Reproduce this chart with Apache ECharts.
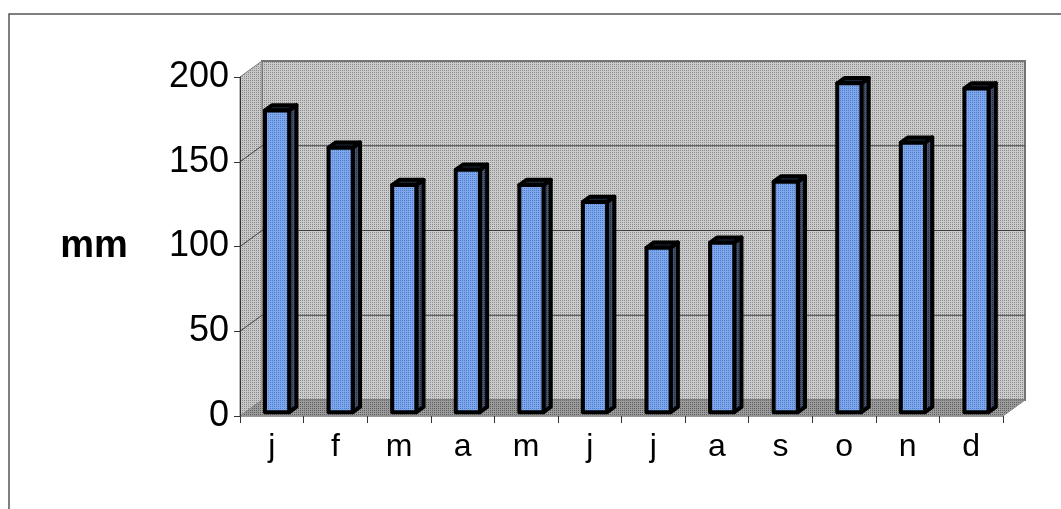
<!DOCTYPE html>
<html>
<head>
<meta charset="utf-8">
<script src="https://cdn.jsdelivr.net/npm/echarts@6/dist/echarts.min.js"></script>
<style>
  html, body { margin: 0; padding: 0; background: #ffffff; }
  #chart { width: 1061px; height: 509px; }
</style>
</head>
<body>
<div id="chart"></div>
<script>
// Monthly rainfall (mm)
const months = ['j', 'f', 'm', 'a', 'm', 'j', 'j', 'a', 's', 'o', 'n', 'd'];
const rainfall = [178, 156, 134, 143, 134, 124, 97, 100, 136, 194, 159, 191];
const yTicks = [0, 50, 100, 150, 200];
const unitLabel = 'mm';

// Depth of the 3D box (back wall offset from the front plane)
const DX = 22, DY = -16;
// Bars sit slightly behind the front plane and have their own depth
const BAR_FRONT = 0.24, BAR_DEPTH = 0.33, BAR_WIDTH = 0.38;

// Small halftone tiles, used as fills
function halftone(base, dot) {
  const c = document.createElement('canvas');
  c.width = 4; c.height = 4;
  const g = c.getContext('2d');
  g.fillStyle = base; g.fillRect(0, 0, 4, 4);
  g.fillStyle = dot;
  g.fillRect(0, 0, 1, 1); g.fillRect(2, 2, 1, 1);
  g.fillRect(2, 0, 1, 1); g.fillRect(0, 2, 1, 1);
  return { image: c, repeat: 'repeat' };
}
const wallFill = halftone('#cbcbcb', '#8a8a8a');
const sideWallFill = halftone('#c8c8c8', '#888888');
const floorFill = halftone('#9c9c9c', '#5e5e5e');
const barFill = halftone('#7fa8ec', '#4f7cc8');
const barSideFill = halftone('#44536e', '#222c3e');

const chart = echarts.init(document.getElementById('chart'));

function renderBox(params, api) {
  const cs = params.coordSys;
  const x0 = cs.x, x1 = cs.x + cs.width;
  const yTop = cs.y, yBot = cs.y + cs.height;
  const children = [];
  // back wall
  children.push({
    type: 'rect',
    shape: { x: x0 + DX, y: yTop + DY, width: cs.width, height: cs.height },
    style: { fill: wallFill, stroke: '#747474', lineWidth: 2 }
  });
  // left wall
  children.push({
    type: 'polygon',
    shape: { points: [[x0, yTop], [x0 + DX, yTop + DY], [x0 + DX, yBot + DY], [x0, yBot]] },
    style: { fill: sideWallFill, stroke: '#7a7a7a', lineWidth: 1 }
  });
  // floor
  children.push({
    type: 'polygon',
    shape: { points: [[x0, yBot], [x1, yBot], [x1 + DX, yBot + DY], [x0 + DX, yBot + DY]] },
    style: { fill: floorFill, stroke: '#8a8a8a', lineWidth: 1 }
  });
  // gridlines along the left wall and the back wall
  yTicks.forEach(function (v) {
    if (v === 0 || v === 200) return;
    const y = api.coord([0, v])[1];
    children.push({
      type: 'polyline',
      shape: { points: [[x0, y], [x0 + DX, y + DY], [x1 + DX, y + DY]] },
      style: { stroke: '#404040', lineWidth: 1, fill: null }
    });
  });
  return { type: 'group', children: children };
}

function renderBar(params, api) {
  const idx = api.value(0);
  const v = api.value(1);
  const top = api.coord([idx, v]);
  const base = api.coord([idx, 0]);
  const band = api.size([1, 0])[0];
  const w = band * BAR_WIDTH;
  const ox = BAR_FRONT * DX, oy = BAR_FRONT * DY;
  const dx = BAR_DEPTH * DX, dy = BAR_DEPTH * DY;
  const xl = top[0] - w / 2 + ox, xr = top[0] + w / 2 + ox;
  const yt = top[1] + oy, yb = base[1] + oy;
  const line = { stroke: '#000000', lineWidth: 4, lineJoin: 'round' };
  return {
    type: 'group',
    children: [
      {
        type: 'polygon',
        shape: { points: [[xr, yt], [xr + dx, yt + dy], [xr + dx, yb + dy], [xr, yb]] },
        style: Object.assign({ fill: barSideFill }, line)
      },
      {
        type: 'polygon',
        shape: { points: [[xl, yt], [xl + dx, yt + dy], [xr + dx, yt + dy], [xr, yt]] },
        style: Object.assign({ fill: '#1c2434' }, line)
      },
      {
        type: 'rect',
        shape: { x: xl, y: yt, width: w, height: yb - yt },
        style: Object.assign({ fill: barFill }, line)
      }
    ]
  };
}

chart.setOption({
  animation: false,
  backgroundColor: '#ffffff',
  grid: { left: 240, right: 58, top: 77, bottom: 93, containLabel: false },
  xAxis: {
    type: 'category',
    data: months,
    boundaryGap: true,
    axisLine: { show: true, lineStyle: { color: '#9a9a9a', width: 1 } },
    axisTick: { show: true, interval: 0, length: 7, lineStyle: { color: '#333333', width: 1 } },
    axisLabel: {
      interval: 0, margin: 15,
      fontFamily: 'Liberation Sans, Arial, sans-serif', fontSize: 32, color: '#000000'
    },
    z: 5
  },
  yAxis: {
    type: 'value',
    min: 0, max: 200, interval: 50,
    axisLine: { show: true, lineStyle: { color: '#333333', width: 1 } },
    axisTick: { show: true, length: 6, lineStyle: { color: '#333333' } },
    splitLine: { show: false },
    axisLabel: {
      margin: 11,
      fontFamily: 'Liberation Sans, Arial, sans-serif', fontSize: 36, color: '#000000'
    },
    z: 5
  },
  graphic: [
    {
      type: 'polyline',
      shape: { points: [[9, 512], [9, 14], [1064, 14]] },
      style: { stroke: '#555555', lineWidth: 1.5, fill: null },
      z: 10
    },
    {
      type: 'text',
      x: 94, y: 247,
      style: {
        text: unitLabel,
        font: 'bold 38px "Liberation Sans", Arial, sans-serif',
        fill: '#000000',
        align: 'center',
        verticalAlign: 'middle'
      },
      z: 10
    }
  ],
  series: [
    {
      type: 'custom',
      name: 'box',
      renderItem: renderBox,
      data: [[0, 0]],
      silent: true,
      z: 1
    },
    {
      type: 'custom',
      name: 'rainfall',
      renderItem: renderBar,
      encode: { x: 0, y: 1 },
      data: months.map(function (m, i) { return [i, rainfall[i]]; }),
      z: 3
    }
  ]
});
</script>
</body>
</html>
